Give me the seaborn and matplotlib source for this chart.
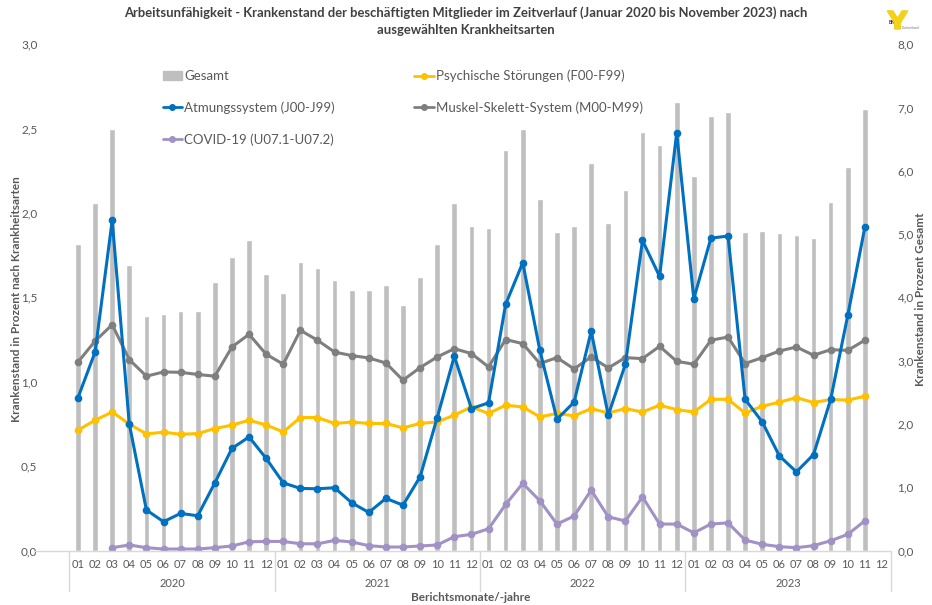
import numpy as np
import pandas as pd
import matplotlib
matplotlib.use("Agg")
import matplotlib.pyplot as plt
import matplotlib.transforms as mtransforms
from matplotlib.lines import Line2D
from matplotlib.patches import Patch, Polygon
import seaborn as sns

# ------------------------------------------------------------------------
# Data, Jan 2020 .. Dec 2023
# ------------------------------------------------------------------------
years = ["2020", "2021", "2022", "2023"]
months = ["01", "02", "03", "04", "05", "06", "07", "08", "09", "10", "11", "12"]

# Gesamt (right axis)
gesamt = [4.85, 5.49, 6.66, 4.51, 3.70, 3.74, 3.78, 3.79, 4.25, 4.63, 4.90, 4.37,
          4.07, 4.56, 4.46, 4.27, 4.12, 4.12, 4.20, 3.88, 4.32, 4.85, 5.49, 5.12,
          5.09, 6.33, 6.66, 5.55, 5.04, 5.12, 6.12, 5.17, 5.69, 6.62, 6.41, 7.08,
          5.92, 6.87, 6.93, 5.03, 5.05, 5.01, 4.98, 4.93, 5.50, 6.06, 6.97, np.nan]

psych = [0.713, 0.772, 0.821, 0.749, 0.691, 0.701, 0.689, 0.693, 0.723, 0.743, 0.772, 0.744,
         0.703, 0.788, 0.788, 0.753, 0.761, 0.753, 0.753, 0.727, 0.753, 0.762, 0.802, 0.851,
         0.812, 0.861, 0.851, 0.792, 0.812, 0.798, 0.841, 0.815, 0.841, 0.821, 0.861, 0.835,
         0.821, 0.896, 0.896, 0.815, 0.855, 0.879, 0.906, 0.877, 0.895, 0.891, 0.914, np.nan]

atmung = [0.906, 1.176, 1.956, 0.749, 0.240, 0.171, 0.220, 0.206, 0.401, 0.605, 0.673, 0.546,
          0.401, 0.368, 0.366, 0.372, 0.283, 0.226, 0.309, 0.269, 0.437, 0.788, 1.151, 0.841,
          0.875, 1.459, 1.705, 1.186, 0.778, 0.879, 1.299, 0.802, 1.104, 1.837, 1.624, 2.475,
          1.492, 1.851, 1.863, 0.896, 0.762, 0.561, 0.466, 0.569, 0.895, 1.393, 1.916, np.nan]

muskel = [1.117, 1.241, 1.338, 1.131, 1.033, 1.058, 1.056, 1.043, 1.033, 1.206, 1.281, 1.163,
          1.104, 1.305, 1.246, 1.176, 1.155, 1.141, 1.111, 1.009, 1.084, 1.147, 1.196, 1.167,
          1.088, 1.250, 1.226, 1.108, 1.143, 1.076, 1.147, 1.082, 1.143, 1.137, 1.210, 1.121,
          1.104, 1.246, 1.265, 1.108, 1.143, 1.182, 1.206, 1.157, 1.190, 1.186, 1.246, np.nan]

covid = [np.nan, np.nan, 0.017, 0.033, 0.017, 0.009, 0.009, 0.009, 0.017, 0.027, 0.052, 0.054,
         0.054, 0.040, 0.040, 0.060, 0.051, 0.029, 0.021, 0.021, 0.027, 0.033, 0.082, 0.096,
         0.129, 0.273, 0.398, 0.295, 0.157, 0.204, 0.358, 0.200, 0.175, 0.318, 0.157, 0.157,
         0.105, 0.157, 0.164, 0.062, 0.037, 0.023, 0.017, 0.029, 0.058, 0.096, 0.176, np.nan]

idx = np.arange(len(years) * len(months))
df = pd.DataFrame({"idx": idx, "Gesamt": gesamt, "psych": psych, "atmung": atmung,
                   "muskel": muskel, "covid": covid})

# ------------------------------------------------------------------------
# Style
# ------------------------------------------------------------------------
sns.set_style("white")
plt.rcParams["font.family"] = ["Lato", "DejaVu Sans"]
TXT = "#595959"

C_BAR = "#BFBFBF"
C_PSY = "#FFC000"
C_ATM = "#0070C0"
C_MUS = "#7F7F7F"
C_COV = "#A291C4"

fig = plt.figure(figsize=(9.32, 6.05), dpi=100)
ax = fig.add_axes([0.0745, 0.09, 0.881, 0.837])
ax2 = ax.twinx()

# bars (secondary axis)
bar_df = df.dropna(subset=["Gesamt"])
sns.barplot(data=bar_df, x="idx", y="Gesamt", color=C_BAR, width=0.33,
            saturation=1, native_scale=True, ax=ax2)

# lines (primary axis)
series = [("psych", C_PSY), ("muskel", C_MUS), ("atmung", C_ATM), ("covid", C_COV)]
for col, c in series:
    d = df.dropna(subset=[col])
    sns.lineplot(data=d, x="idx", y=col, color=c, lw=2.2, marker="o", ms=5.5,
                 mec=c, mew=0, ax=ax, legend=False)

ax.set_zorder(ax2.get_zorder() + 1)
ax.patch.set_visible(False)

ax.set_xlim(-0.5, 47.5)
ax.set_ylim(0, 3)
ax2.set_ylim(0, 8)

ax.set_yticks(np.arange(0, 3.01, 0.5))
ax.set_yticklabels([f"{v:.1f}".replace(".", ",") for v in np.arange(0, 3.01, 0.5)])
ax2.set_yticks(np.arange(0, 8.01, 1))
ax2.set_yticklabels([f"{v:.1f}".replace(".", ",") for v in np.arange(0, 8.01, 1)])

ax.tick_params(axis="y", length=0, pad=23, labelsize=8.5, labelcolor=TXT)
ax2.tick_params(axis="y", length=0, pad=5, labelsize=8.5, labelcolor=TXT)

ax.set_xticks(idx)
ax.set_xticklabels(months * len(years))
ax.tick_params(axis="x", length=0, pad=6, labelsize=8, labelcolor=TXT)
ax2.set_xlabel("")
ax2.set_ylabel("")
ax.set_xlabel("")
ax.set_ylabel("")

for a in (ax, ax2):
    for s in a.spines.values():
        s.set_visible(False)

# category axis frame (multi level, like the Excel chart)
trans = mtransforms.blended_transform_factory(ax.transData, ax.transAxes)
ax.plot([-2.6, 47.5], [0, 0], color="#D9D9D9", lw=1, transform=trans, clip_on=False)
for b in [-0.5, 11.5, 23.5, 35.5, 47.5]:
    ax.plot([b, b], [0, -0.08], color="#D9D9D9", lw=1, transform=trans, clip_on=False)
for k, yr in enumerate(years):
    ax.text(k * 12 + 5.5, -0.066, yr, transform=trans, ha="center", va="center",
            fontsize=8, color=TXT)

fig.text(0.505, 0.012, "Berichtsmonate/-jahre", ha="center", va="center",
         fontsize=8.5, fontweight="bold", color=TXT)
fig.text(0.018, 0.505, "Krankenstand in Prozent nach Krankheitsarten", rotation=90,
         ha="center", va="center", fontsize=8.5, fontweight="bold", color=TXT)
fig.text(0.988, 0.505, "Krankenstand in Prozent Gesamt", rotation=90, ha="center",
         va="center", fontsize=8.5, fontweight="bold", color=TXT)

fig.suptitle("Arbeitsunfähigkeit - Krankenstand der beschäftigten Mitglieder im Zeitverlauf "
             "(Januar 2020 bis November 2023) nach\nausgewählten Krankheitsarten",
             x=0.5, y=0.99, fontsize=9.4, fontweight="bold", color="#404040",
             linespacing=1.55)

# legend
handles = [
    Patch(color=C_BAR, label="Gesamt"),
    Line2D([], [], color=C_ATM, lw=2, marker="o", ms=4, label="Atmungssystem (J00-J99)"),
    Line2D([], [], color=C_COV, lw=2, marker="o", ms=4, label="COVID-19 (U07.1-U07.2)"),
    Line2D([], [], color=C_PSY, lw=2, marker="o", ms=4, label="Psychische Störungen (F00-F99)"),
    Line2D([], [], color=C_MUS, lw=2, marker="o", ms=4, label="Muskel-Skelett-System (M00-M99)"),
]
leg = ax.legend(handles=handles, ncol=2, loc="upper left", bbox_to_anchor=(0.099, 0.973),
                frameon=False, fontsize=9.5, handlelength=1.5, handletextpad=0.15,
                labelspacing=1.45, columnspacing=6.0)
for t in leg.get_texts():
    t.set_color(TXT)

# small logo (top right)
logo = Polygon([[0.952, 0.982], [0.958, 0.982], [0.963, 0.970], [0.968, 0.982],
                [0.974, 0.982], [0.966, 0.962], [0.966, 0.952], [0.960, 0.952],
                [0.960, 0.962]], closed=True, transform=fig.transFigure,
               color="#F2D21B", zorder=5)
fig.patches.append(logo)
fig.text(0.953, 0.960, "BKK", fontsize=3.5, color="#333333", fontweight="bold")
fig.text(0.968, 0.952, "Dachverband", fontsize=2.2, color="#777777")

plt.savefig("out.png", dpi=100)
plt.close()
